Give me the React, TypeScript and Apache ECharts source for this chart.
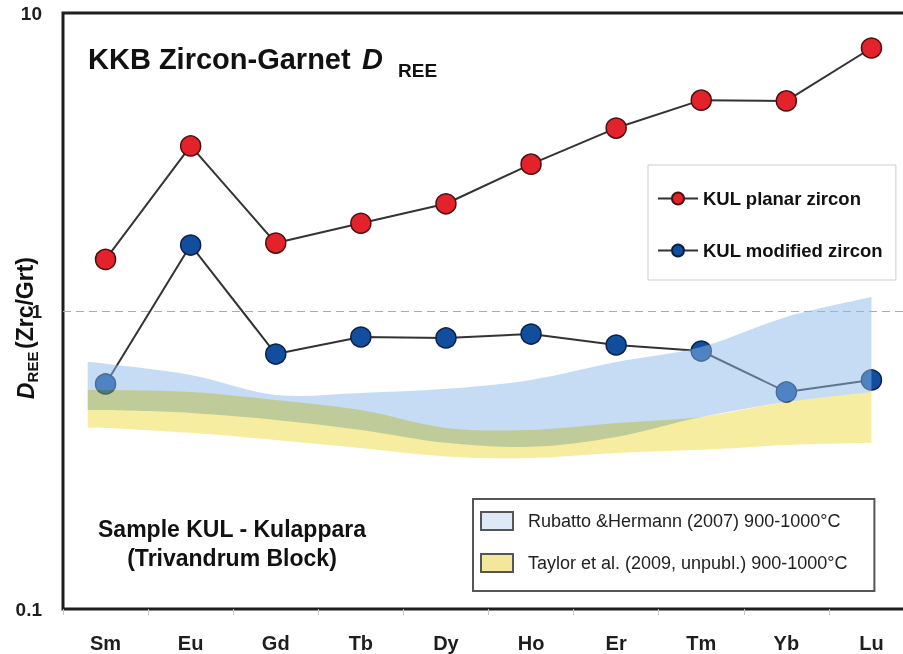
import React, { useEffect, useRef } from "react";
import * as echarts from "echarts";

const elements = ["Sm", "Eu", "Gd", "Tb", "Dy", "Ho", "Er", "Tm", "Yb", "Lu"];
const planarZircon = [1.49, 3.58, 1.69, 1.97, 2.29, 3.11, 4.11, 5.1, 5.07, 7.63];
const modifiedZircon = [0.569, 1.665, 0.717, 0.818, 0.812, 0.837, 0.769, 0.734, 0.535, 0.587];
const yTickLabels = ["0.1", "1", "10"];

// band outline positions (in category-index units) and bounds
const bandPositions = [-0.21, 0, 1, 2, 3, 4, 5, 6, 7, 8, 9];
const rubattoUpper = [0.674, 0.665, 0.61, 0.523, 0.531, 0.548, 0.587, 0.674, 0.757, 0.955, 1.114];
const rubattoLower = [0.465, 0.465, 0.455, 0.431, 0.399, 0.361, 0.35, 0.378, 0.441, 0.495, 0.535];
const taylorUpper = [0.543, 0.543, 0.535, 0.503, 0.465, 0.405, 0.399, 0.421, 0.441, 0.495, 0.535];
const taylorLower = [0.405, 0.405, 0.39, 0.369, 0.347, 0.325, 0.321, 0.334, 0.342, 0.355, 0.361];

const PLANAR = "KUL planar zircon";
const MODIFIED = "KUL modified zircon";
const RUBATTO = "Rubatto &Hermann (2007) 900-1000°C";
const TAYLOR = "Taylor et al. (2009, unpubl.) 900-1000°C";

const FF = '"Liberation Sans", Arial, Helvetica, sans-serif';
const YELLOW = "#f7eda0";
const BLUE = "rgba(139,186,234,0.5)";

function pt(p: number[]) {
  return p[0].toFixed(2) + "," + p[1].toFixed(2);
}

// Catmull-Rom spline through pixel points, expressed as cubic Bezier segments
function splineSegments(p: number[][]) {
  let d = "";
  const n = p.length;
  for (let i = 0; i < n - 1; i++) {
    const p0 = p[Math.max(0, i - 1)];
    const p1 = p[i];
    const p2 = p[i + 1];
    const p3 = p[Math.min(n - 1, i + 2)];
    const c1 = [p1[0] + (p2[0] - p0[0]) / 6, p1[1] + (p2[1] - p0[1]) / 6];
    const c2 = [p2[0] - (p3[0] - p1[0]) / 6, p2[1] - (p3[1] - p1[1]) / 6];
    d += " C" + pt(c1) + " " + pt(c2) + " " + pt(p2);
  }
  return d;
}

function bandRenderer(upper: number[], lower: number[], fill: string) {
  return (_params: any, api: any) => {
    const top = bandPositions.map((x, i) => api.coord([x, upper[i]]));
    const bottom = bandPositions.map((x, i) => api.coord([x, lower[i]])).reverse();
    const d =
      "M" + pt(top[0]) + splineSegments(top) + " L" + pt(bottom[0]) + splineSegments(bottom) + " Z";
    return { type: "path", shape: { pathData: d }, style: { fill, stroke: "none" }, silent: true };
  };
}

export default function App() {
  const ref = useRef<HTMLDivElement>(null);

  useEffect(() => {
    if (!ref.current) return;
    const chart = echarts.init(ref.current, null, { renderer: "svg" });

    const option: any = {
      animation: false,
      backgroundColor: "#ffffff",
      textStyle: { fontFamily: FF },
      grid: {
        left: 63,
        width: 851,
        top: 13,
        bottom: 45,
        outerBoundsMode: "none",
        containLabel: false,
        show: true,
        borderColor: "#1e1e1e",
        borderWidth: 3,
        backgroundColor: "transparent",
      },
      xAxis: [
        {
          type: "category",
          data: elements,
          boundaryGap: true,
          axisLine: { show: false },
          axisTick: { show: true, length: 6, lineStyle: { color: "#c8c8c8", width: 1 } },
          axisLabel: { margin: 24, fontSize: 20, fontWeight: "bold", color: "#1e1e1e", fontFamily: FF },
          splitLine: { show: false },
        },
        { type: "value", min: -0.5, max: 9.5, show: false },
      ],
      yAxis: {
        type: "log",
        logBase: 10,
        min: 0.1,
        max: 10,
        axisLine: { show: false },
        axisTick: { show: false },
        axisLabel: {
          margin: 21,
          fontSize: 19,
          fontWeight: "bold",
          color: "#1e1e1e",
          fontFamily: FF,
          formatter: (v: number) => {
            const idx = Math.round(Math.log10(v)) + 1;
            return yTickLabels[idx] ?? "";
          },
        },
        splitLine: {
          show: true,
          showMinLine: false,
          showMaxLine: false,
          lineStyle: { color: "#ababab", type: [8, 5], width: 1 },
        },
      },
      legend: [
        {
          data: [PLANAR, MODIFIED],
          orient: "vertical",
          left: 648,
          top: 165,
          padding: [24, 13, 20, 9],
          itemGap: 33,
          itemWidth: 40,
          itemHeight: 15,
          borderColor: "#cfcfcf",
          borderWidth: 1,
          backgroundColor: "#ffffff",
          selectedMode: false,
          textStyle: { fontSize: 18.5, fontWeight: "bold", color: "#111", fontFamily: FF },
        },
        {
          data: [
            { name: RUBATTO, icon: "rect", itemStyle: { color: "#dde9f6", borderColor: "#555", borderWidth: 2 } },
            { name: TAYLOR, icon: "rect", itemStyle: { color: "#f3e79b", borderColor: "#555", borderWidth: 2 } },
          ],
          orient: "vertical",
          left: 473,
          top: 499,
          padding: [12, 27, 18, 7],
          itemGap: 22,
          itemWidth: 32,
          itemHeight: 18,
          borderColor: "#555",
          borderWidth: 2,
          backgroundColor: "#ffffff",
          selectedMode: false,
          textStyle: { fontSize: 18, color: "#222", fontFamily: FF, padding: [0, 0, 0, 10] },
        },
      ],
      graphic: [
        {
          type: "text",
          x: 88,
          y: 59,
          style: { text: "KKB Zircon-Garnet", font: `bold 29px ${FF}`, fill: "#111", align: "left", verticalAlign: "middle" },
        },
        {
          type: "text",
          x: 362,
          y: 59,
          style: { text: "D", font: `italic bold 29px ${FF}`, fill: "#111", align: "left", verticalAlign: "middle" },
        },
        {
          type: "text",
          x: 398,
          y: 70,
          style: { text: "REE", font: `bold 19px ${FF}`, fill: "#111", align: "left", verticalAlign: "middle" },
        },
        {
          type: "text",
          x: 26,
          y: 391,
          rotation: Math.PI / 2,
          style: { text: "D", font: `italic bold 23px ${FF}`, fill: "#111", align: "center", verticalAlign: "middle" },
        },
        {
          type: "text",
          x: 32,
          y: 367,
          rotation: Math.PI / 2,
          style: { text: "REE", font: `bold 15px ${FF}`, fill: "#111", align: "center", verticalAlign: "middle" },
        },
        {
          type: "text",
          x: 25,
          y: 303,
          rotation: Math.PI / 2,
          style: { text: "(Zrc/Grt)", font: `bold 23px ${FF}`, fill: "#111", align: "center", verticalAlign: "middle" },
        },
        {
          type: "text",
          x: 232,
          y: 529,
          style: { text: "Sample KUL - Kulappara", font: `bold 23px ${FF}`, fill: "#111", align: "center", verticalAlign: "middle" },
        },
        {
          type: "text",
          x: 232,
          y: 558,
          style: { text: "(Trivandrum Block)", font: `bold 23px ${FF}`, fill: "#111", align: "center", verticalAlign: "middle" },
        },
      ],
      series: [
        {
          name: PLANAR,
          type: "line",
          data: planarZircon,
          symbol: "circle",
          symbolSize: 20,
          lineStyle: { color: "#333", width: 2 },
          itemStyle: { color: "#e3222b", borderColor: "#4a1010", borderWidth: 1.5 },
          z: 2,
        },
        {
          name: MODIFIED,
          type: "line",
          data: modifiedZircon,
          symbol: "circle",
          symbolSize: 20,
          lineStyle: { color: "#333", width: 2 },
          itemStyle: { color: "#124e9e", borderColor: "#0b1f45", borderWidth: 1.5 },
          z: 2,
        },
        {
          name: RUBATTO,
          type: "custom",
          xAxisIndex: 1,
          yAxisIndex: 0,
          data: [[0, 1]],
          renderItem: bandRenderer(rubattoUpper, rubattoLower, BLUE),
          itemStyle: { color: "#dde9f6" },
          silent: true,
          z: 3,
        },
        {
          name: TAYLOR,
          type: "custom",
          xAxisIndex: 1,
          yAxisIndex: 0,
          data: [[0, 1]],
          renderItem: bandRenderer(taylorUpper, taylorLower, YELLOW),
          itemStyle: { color: "#f3e79b" },
          silent: true,
          z: 4,
        },
      ],
    };

    chart.setOption(option);
    return () => chart.dispose();
  }, []);

  return (
    <>
      <style>{`path[fill="${YELLOW}"]{mix-blend-mode:multiply;}`}</style>
      <div ref={ref} style={{ position: "absolute", left: 0, top: 0, width: 903, height: 654 }} />
    </>
  );
}
